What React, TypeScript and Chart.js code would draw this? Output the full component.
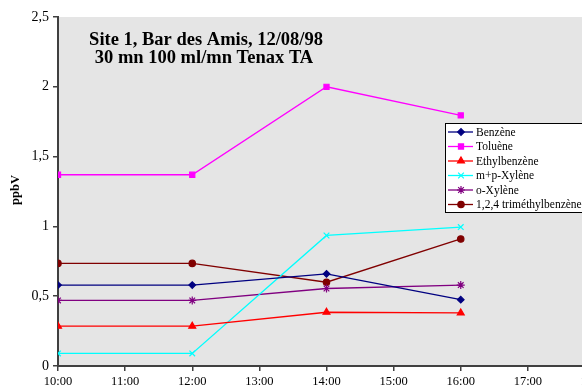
import React, { useEffect, useRef } from 'react';
import { Chart, registerables } from 'chart.js';
import { drawPoint } from 'chart.js/helpers';
Chart.register(...registerables);

const times = ['10:00', '12:00', '14:00', '16:00'];
const benzene = [0.58, 0.58, 0.66, 0.475];
const toluene = [1.37, 1.37, 2.0, 1.795];
const ethylbenzene = [0.285, 0.285, 0.385, 0.38];
const mpXylene = [0.09, 0.09, 0.935, 0.995];
const oXylene = [0.47, 0.47, 0.555, 0.58];
const trimethylbenzene = [0.735, 0.735, 0.6, 0.91];
const seriesNames = ['Benzène', 'Toluène', 'Ethylbenzène', 'm+p-Xylène', 'o-Xylène', '1,2,4 triméthylbenzène'];
const xTickLabels = ['10:00', '11:00', '12:00', '13:00', '14:00', '15:00', '16:00', '17:00', '18:00'];
const titleLines = ['Site 1, Bar des Amis, 12/08/98', '30 mn 100 ml/mn Tenax TA'];
const yAxisTitle = 'ppbV';

const colors = ['#000080', '#ff00ff', '#ff0000', '#00ffff', '#800080', '#800000'];
const pointStyles = ['rectRot', 'rect', 'triangle', 'crossRot', 'star', 'circle'];
const pointRadii = [3.3, 3.6, 4, 4, 4, 3.2];

const SERIF = '"Liberation Serif", "Times New Roman", serif';

const toHour = (t: string) => {
  const [h, m] = t.split(':').map(Number);
  return h + m / 60;
};

export default function App() {
  const ref = useRef<HTMLCanvasElement | null>(null);
  useEffect(() => {
    if (!ref.current) return;
    const all = [benzene, toluene, ethylbenzene, mpXylene, oXylene, trimethylbenzene];
    const datasets = all.map((vals, i) => ({
      label: seriesNames[i],
      data: vals.map((v, j) => ({ x: toHour(times[j]), y: v })),
      borderColor: colors[i],
      backgroundColor: colors[i],
      borderWidth: 1.3,
      pointStyle: pointStyles[i] as any,
      pointRadius: pointRadii[i],
      pointBorderWidth: 1.2,
      pointBorderColor: colors[i],
      pointBackgroundColor: colors[i],
      tension: 0,
    }));

    const decor = {
      id: 'decor',
      beforeDraw(chart: any) {
        const { ctx, chartArea: a } = chart;
        ctx.save();
        ctx.fillStyle = '#ffffff';
        ctx.fillRect(0, 0, chart.width, chart.height);
        ctx.fillStyle = '#e5e5e5';
        ctx.fillRect(a.left, a.top, a.right - a.left, a.bottom - a.top);
        ctx.restore();
      },
      afterDraw(chart: any) {
        const { ctx } = chart;
        ctx.save();
        ctx.fillStyle = '#000';
        ctx.font = `bold 18.5px ${SERIF}`;
        ctx.textAlign = 'center';
        ctx.textBaseline = 'middle';
        ctx.fillText(titleLines[0], 206, 40);
        ctx.fillText(titleLines[1], 204, 58);
        ctx.save();
        ctx.translate(16, 190);
        ctx.rotate(-Math.PI / 2);
        ctx.font = `bold 12.5px ${SERIF}`;
        ctx.fillText(yAxisTitle, 0, 0);
        ctx.restore();
        const lx = 445, ly = 123, lw = 170, lh = 89;
        ctx.fillStyle = '#ffffff';
        ctx.fillRect(lx, ly, lw, lh);
        ctx.strokeStyle = '#000';
        ctx.lineWidth = 1;
        ctx.strokeRect(lx + 0.5, ly + 0.5, lw, lh);
        ctx.font = `11.5px ${SERIF}`;
        ctx.textAlign = 'left';
        for (let i = 0; i < seriesNames.length; i++) {
          const y = 132 + i * 14.5;
          ctx.strokeStyle = colors[i];
          ctx.lineWidth = 1.3;
          ctx.beginPath();
          ctx.moveTo(448, y);
          ctx.lineTo(473, y);
          ctx.stroke();
          ctx.fillStyle = colors[i];
          ctx.lineWidth = 1.2;
          drawPoint(ctx, {
            pointStyle: pointStyles[i] as any,
            radius: pointRadii[i],
            borderWidth: 1.2,
            rotation: 0,
          } as any, 461, y);
          ctx.fillStyle = '#000';
          ctx.fillText(seriesNames[i], 476, y + 0.5);
        }
        ctx.restore();
      },
    };

    const chart = new Chart(ref.current, {
      type: 'line',
      data: { datasets },
      options: {
        animation: false,
        responsive: false,
        maintainAspectRatio: false,
        layout: { padding: { top: 17, right: 25, left: 0, bottom: 0 } },
        plugins: { legend: { display: false }, tooltip: { enabled: false }, title: { display: false } },
        scales: {
          x: {
            type: 'linear',
            min: 10,
            max: 18,
            afterFit: (s: any) => { s.height = 23; },
            ticks: {
              stepSize: 1,
              autoSkip: false,
              maxRotation: 0,
              padding: 3,
              color: '#000',
              font: { family: SERIF, size: 12.5 },
              callback: (v: any) => xTickLabels[Math.round(Number(v) - 10)] ?? '',
            },
            grid: { drawOnChartArea: false, tickLength: 5, color: '#404040', lineWidth: 1.5 },
            border: { color: '#404040', width: 2 },
          },
          y: {
            min: 0,
            max: 2.5,
            afterFit: (s: any) => { s.width = 58; },
            ticks: {
              stepSize: 0.5,
              padding: 4,
              color: '#000',
              font: { family: SERIF, size: 14 },
              callback: (v: any) => String(Number(v)).replace('.', ','),
            },
            grid: { drawOnChartArea: false, tickLength: 5, color: '#404040', lineWidth: 1.5 },
            border: { color: '#404040', width: 2 },
          },
        },
      },
      plugins: [decor],
    });
    return () => chart.destroy();
  }, []);

  return (
    <div style={{ position: 'fixed', left: 0, top: 0, width: 582, height: 389, overflow: 'hidden', background: '#fff' }}>
      <canvas ref={ref} width={620} height={389} style={{ width: 620, height: 389, display: 'block' }} />
    </div>
  );
}
